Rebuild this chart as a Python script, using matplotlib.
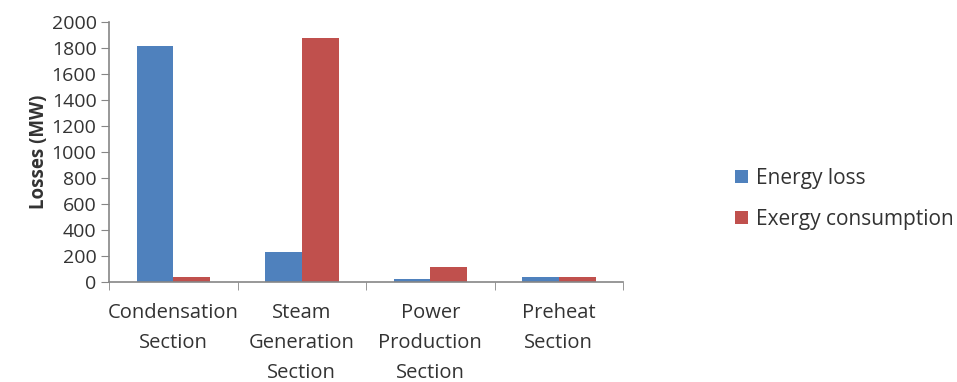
import matplotlib.pyplot as plt
import numpy as np

categories = ["Condensation\nSection", "Steam\nGeneration\nSection",
              "Power\nProduction\nSection", "Preheat\nSection"]
energy_loss = [1815, 228, 23, 36]
exergy_consumption = [36, 1879, 118, 36]
series_names = ["Energy loss", "Exergy consumption"]

plt.rcParams['font.family'] = ['Open Sans', 'DejaVu Sans']

fig = plt.figure(figsize=(9.57, 3.82), dpi=100)
ax = fig.add_axes([0.1139, 0.2618, 0.5372, 0.6806])

x = np.arange(len(categories))
w = 0.286
ax.bar(x - w / 2, energy_loss, w, color="#4F81BD", label=series_names[0])
ax.bar(x + w / 2, exergy_consumption, w, color="#C0504D", label=series_names[1])

ax.set_xlim(-0.5, len(categories) - 0.5)
ax.set_ylim(0, 2000)
ax.set_yticks(np.arange(0, 2001, 200))
ax.set_xticks(x)
ax.set_xticklabels(categories, fontsize=14.5, color="#333333", linespacing=1.68)
ax.tick_params(axis="x", length=0, pad=15)
ax.set_xticks(np.arange(-0.5, len(categories), 1), minor=True)
ax.tick_params(axis="x", which="minor", length=6, color="#868686", direction="out")
ax.tick_params(axis="y", length=6, color="#868686", labelsize=14, labelcolor="#333333", pad=3)

for s in ["top", "right"]:
    ax.spines[s].set_visible(False)
for s in ["left", "bottom"]:
    ax.spines[s].set_color("#868686")
    ax.spines[s].set_linewidth(1.2)

ax.set_ylabel("Losses (MW)", fontsize=13.5, fontweight="bold", color="#333333", labelpad=2)

ax.legend(loc="center left", bbox_to_anchor=(735 / 957, 1 - 199 / 382),
          bbox_transform=fig.transFigure, frameon=False, fontsize=15,
          handlelength=0.6, handleheight=0.6, handletextpad=0.4, labelspacing=0.95,
          borderpad=0, borderaxespad=0, labelcolor="#333333")

fig.savefig("out.png", dpi=100)
